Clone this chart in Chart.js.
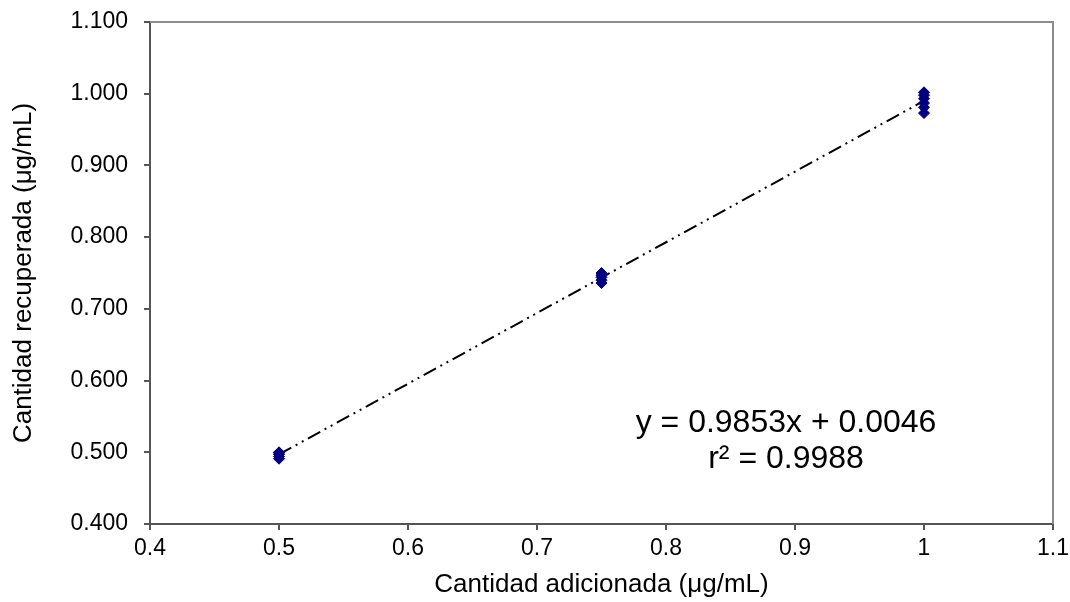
<!DOCTYPE html>
<html>
<head>
<meta charset="utf-8">
<script src="https://cdn.jsdelivr.net/npm/chart.js@4"></script>
<style>
html,body{margin:0;padding:0;background:#fff;}
#wrap{width:1070px;height:602px;position:relative;}
</style>
</head>
<body>
<div id="wrap"><canvas id="c" width="1070" height="602"></canvas></div>
<script>
const xAdded05 = [0.5, 0.5, 0.5, 0.5, 0.5];
const yRec05 = [0.500, 0.499, 0.497, 0.494, 0.491];
const xAdded075 = [0.75, 0.75, 0.75, 0.75, 0.75];
const yRec075 = [0.750, 0.747, 0.744, 0.740, 0.736];
const xAdded1 = [1, 1, 1, 1, 1, 1];
const yRec1 = [1.002, 0.998, 0.993, 0.987, 0.981, 0.973];
const trendX = [0.5, 1.0];
const trendY = [0.497, 0.990];
const xTickLabels = ['0.4','0.5','0.6','0.7','0.8','0.9','1','1.1'];
const yTickLabels = ['0.400','0.500','0.600','0.700','0.800','0.900','1.000','1.100'];
const equationText = 'y = 0.9853x + 0.0046';
const r2Text = 'r² = 0.9988';
const xTitle = 'Cantidad adicionada (μg/mL)';
const yTitle = 'Cantidad recuperada (μg/mL)';

const FONT = "'Liberation Sans', Arial, sans-serif";
const pts = [];
[[xAdded05,yRec05],[xAdded075,yRec075],[xAdded1,yRec1]].forEach(([xs,ys])=>{
  xs.forEach((x,i)=>pts.push({x:x,y:ys[i]}));
});

const framePlugin = {
  id:'frame',
  beforeDatasetsDraw(chart){
    const {ctx, chartArea:a} = chart;
    ctx.save();
    ctx.strokeStyle = '#8c8c8c';
    ctx.lineWidth = 2;
    ctx.beginPath();
    ctx.moveTo(a.left, a.top); ctx.lineTo(a.right, a.top); ctx.lineTo(a.right, a.bottom);
    ctx.stroke();
    ctx.restore();
  },
  afterDraw(chart){
    const {ctx} = chart;
    ctx.save();
    ctx.fillStyle = '#000';
    ctx.textAlign = 'center';
    ctx.textBaseline = 'middle';
    ctx.font = '32px ' + FONT;
    ctx.fillText(equationText, 786, 423);
    ctx.fillText(r2Text, 786, 459);
    ctx.restore();
  }
};

new Chart(document.getElementById('c'), {
  type:'scatter',
  data:{
    datasets:[
      {
        type:'line',
        data: trendX.map((x,i)=>({x:x,y:trendY[i]})),
        borderColor:'#000',
        borderWidth:2,
        borderDash:[14,5,2,5,2,5],
        pointRadius:0,
        fill:false,
        order:2
      },
      {
        data: pts,
        pointStyle:'rectRot',
        pointRadius:5.5,
        backgroundColor:'#000080',
        borderColor:'#000080',
        borderWidth:1,
        order:1
      }
    ]
  },
  options:{
    responsive:false,
    animation:false,
    layout:{padding:{top:22,right:17,left:8,bottom:0}},
    plugins:{legend:{display:false}, tooltip:{enabled:false}},
    scales:{
      x:{
        type:'linear', min:0.4, max:1.1,
        afterFit(s){ s.height = 78; s.paddingRight = 8; s.paddingLeft = 0; },
        afterBuildTicks(s){ s.ticks = xTickLabels.map(v=>({value:parseFloat(v)})); },
        ticks:{
          callback:(v,i)=>xTickLabels[i],
          font:{family:FONT,size:23}, color:'#000', padding:5, maxRotation:0, autoSkip:false
        },
        grid:{drawOnChartArea:false, tickLength:6, color:'#555', lineWidth:2},
        border:{color:'#555', width:2},
        title:{display:true, text:xTitle, font:{family:FONT,size:26}, color:'#000', padding:{top:0,bottom:2}}
      },
      y:{
        type:'linear', min:0.4, max:1.1,
        afterFit(s){ s.width = 142; s.paddingTop = 12; s.paddingBottom = 0; },
        afterBuildTicks(s){ s.ticks = yTickLabels.map(v=>({value:parseFloat(v)})); },
        ticks:{
          callback:(v,i)=>yTickLabels[i],
          font:{family:FONT,size:23}, color:'#000', padding:16, autoSkip:false
        },
        grid:{drawOnChartArea:false, tickLength:6, color:'#555', lineWidth:2},
        border:{color:'#555', width:2},
        title:{display:true, text:yTitle, font:{family:FONT,size:26}, color:'#000', padding:{top:0,bottom:4}}
      }
    }
  },
  plugins:[framePlugin]
});
</script>
</body>
</html>
